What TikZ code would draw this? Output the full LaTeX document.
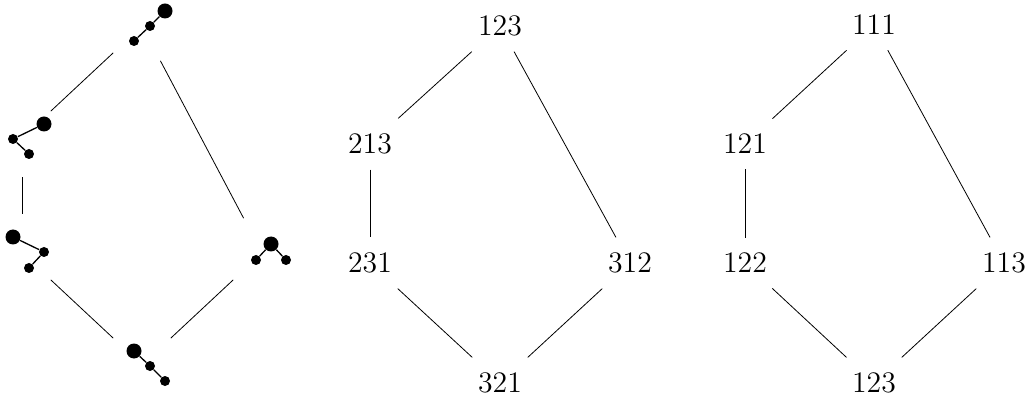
\documentclass[tikz,border=0pt]{standalone}
\usepackage{tikz}
\usetikzlibrary{positioning}

\begin{document}
\begin{tikzpicture}[x=0.5pt,y=-0.5pt]
            \tikzstyle{perm}=[inner sep=7.5pt,font=\fontsize{14.9}{18}\selectfont]
            \tikzstyle{tree}=[circle,inner sep=0pt,minimum size=39pt]
            \tikzstyle{big dot}=[circle,fill,inner sep=0pt,minimum size=7.5pt]
            \tikzstyle{small dot}=[circle,fill,inner sep=0pt,minimum size=5pt]
            \tikzstyle{twig}=[line width=0.65pt]
            \useasboundingbox (0,0) rectangle (1031,400);

            % trees
            \node[tree] (A) at (142,26) {};
            \node[tree] (B) at (22,138) {};
            \node[tree] (C) [below of=B,node distance=57.5pt] {};
            \node[tree] (D) [right of=C,node distance=120pt] {};
            \node[tree] (E) at (142,365) {};

            \node[big dot] (A1) at ([shift={(23,-15)}]A) {};
            \node[small dot] (A2) at ([shift={(8,0)}]A) {};
            \node[small dot] (A3) at ([shift={(-8,15)}]A) {};
            \node[big dot] (B1) at ([shift={(22,-14)}]B) {};
            \node[small dot] (B2) at ([shift={(-9,1)}]B) {};
            \node[small dot] (B3) at ([shift={(7,16)}]B) {};
            \node[big dot] (C1) at ([shift={(-9,-16)}]C) {};
            \node[small dot] (C2) at ([shift={(22,-1)}]C) {};
            \node[small dot] (C3) at ([shift={(7,15)}]C) {};
            \node[big dot] (D1) at ([shift={(9,-9)}]D) {};
            \node[small dot] (D2) at ([shift={(-6,7)}]D) {};
            \node[small dot] (D3) at ([shift={(24,7)}]D) {};
            \node[big dot] (E1) at ([shift={(-8,-14)}]E) {};
            \node[small dot] (E2) at ([shift={(8,1)}]E) {};
            \node[small dot] (E3) at ([shift={(23,16)}]E) {};

            \draw[twig] (A1) -- (A2) -- (A3);
            \draw[twig] (B1) -- (B2) -- (B3);
            \draw[twig] (C1) -- (C2) -- (C3);
            \draw[twig] (D2) -- (D1) -- (D3);
            \draw[twig] (E1) -- (E2) -- (E3);

            \draw (A) -- (B);
            \draw (A) -- (D);
            \draw (B) -- (C);
            \draw (C) -- (E);
            \draw (D) -- (E);

            % permutations
            \node[perm] (p123) at (500,26) {123};
            \node[perm] (p213) at (370,144) {213};
            \node[perm] (p231) [below of=p213,node distance=59.5pt] {231};
            \node[perm] (p312) [right of=p231,node distance=130pt] {312};
            \node[perm] (p321) at (500,383) {321};

            \draw (p123) -- (p213);
            \draw (p123) -- (p312);
            \draw (p213) -- (p231);
            \draw (p231) -- (p321);
            \draw (p312) -- (p321);

            % words
            \node[perm] (w111) at (874,25) {111};
            \node[perm] (w121) at (745,144) {121};
            \node[perm] (w122) [below of=w121,node distance=59.5pt] {122};
            \node[perm] (w113) [right of=w122,node distance=129.5pt] {113};
            \node[perm] (w123) at (874,383) {123};

            \draw (w111) -- (w121);
            \draw (w111) -- (w113);
            \draw (w121) -- (w122);
            \draw (w122) -- (w123);
            \draw (w113) -- (w123);
\end{tikzpicture}
\end{document}
